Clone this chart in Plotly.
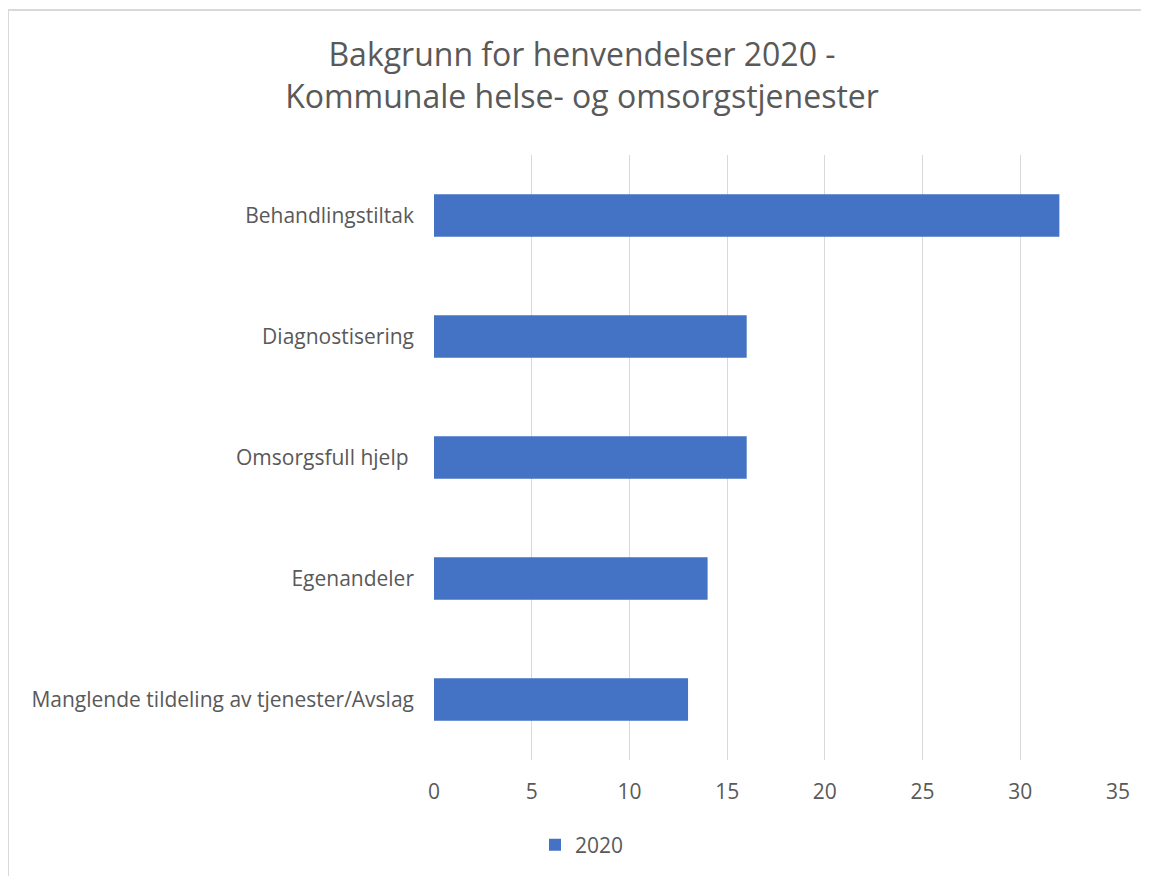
import plotly.graph_objects as go

categories = ["Behandlingstiltak", "Diagnostisering", "Omsorgsfull hjelp ", "Egenandeler",
              "Manglende tildeling av tjenester/Avslag"]
values_2020 = [32, 16, 16, 14, 13]
series_name = "2020"
title_line1 = "Bakgrunn for henvendelser 2020 -"
title_line2 = "Kommunale helse- og omsorgstjenester"

OFF = 8  # page body margin
W, H = 1149 - OFF, 876 - OFF
L, R, T, B = 434 - OFF, 31, 155 - OFF, 116
pw, ph = W - L - R, H - T - B

def px_x(p):
    return (p - OFF - L) / pw

def px_y(p):
    return (H - B - (p - OFF)) / ph

FONT = "Open Sans, Lato, sans-serif"
TXT = "#595959"

fig = go.Figure()
fig.add_trace(go.Bar(
    y=categories, x=values_2020, orientation="h", name=series_name,
    marker=dict(color="#4472C4", line=dict(width=0)),
))

fig.update_layout(
    width=W, height=H,
    margin=dict(l=L, r=R, t=T, b=B, autoexpand=False),
    paper_bgcolor="white", plot_bgcolor="white",
    font=dict(family=FONT, color=TXT, size=21),
    title=dict(text=title_line1 + "<br>" + title_line2, x=(582 - OFF) / W, xanchor="center",
               y=1 - (73 - OFF - 7) / H, yanchor="middle", yref="container",
               font=dict(size=32, color=TXT, family=FONT)),
    bargap=0.65,
    showlegend=True,
    legend=dict(orientation="h", x=px_x(535), xanchor="left",
                y=px_y(845), yanchor="middle",
                font=dict(size=21, color=TXT), itemwidth=30),
    xaxis=dict(range=[0, 35], dtick=5, tick0=0, showgrid=True, gridcolor="#d9d9d9",
               gridwidth=1.3, zeroline=False, showline=False, ticks="",
               ticklabelstandoff=17, tickfont=dict(size=21, color=TXT)),
    yaxis=dict(autorange="reversed", showgrid=False, zeroline=False, showline=False,
               ticks="", ticklabelstandoff=19, tickfont=dict(size=21, color=TXT)),
    shapes=[dict(type="rect", xref="paper", yref="paper",
                 x0=px_x(8), x1=px_x(1180), y0=px_y(900), y1=px_y(10),
                 line=dict(color="#d9d9d9", width=2), fillcolor="rgba(0,0,0,0)",
                 layer="below")],
)

fig.write_html("out.html")
